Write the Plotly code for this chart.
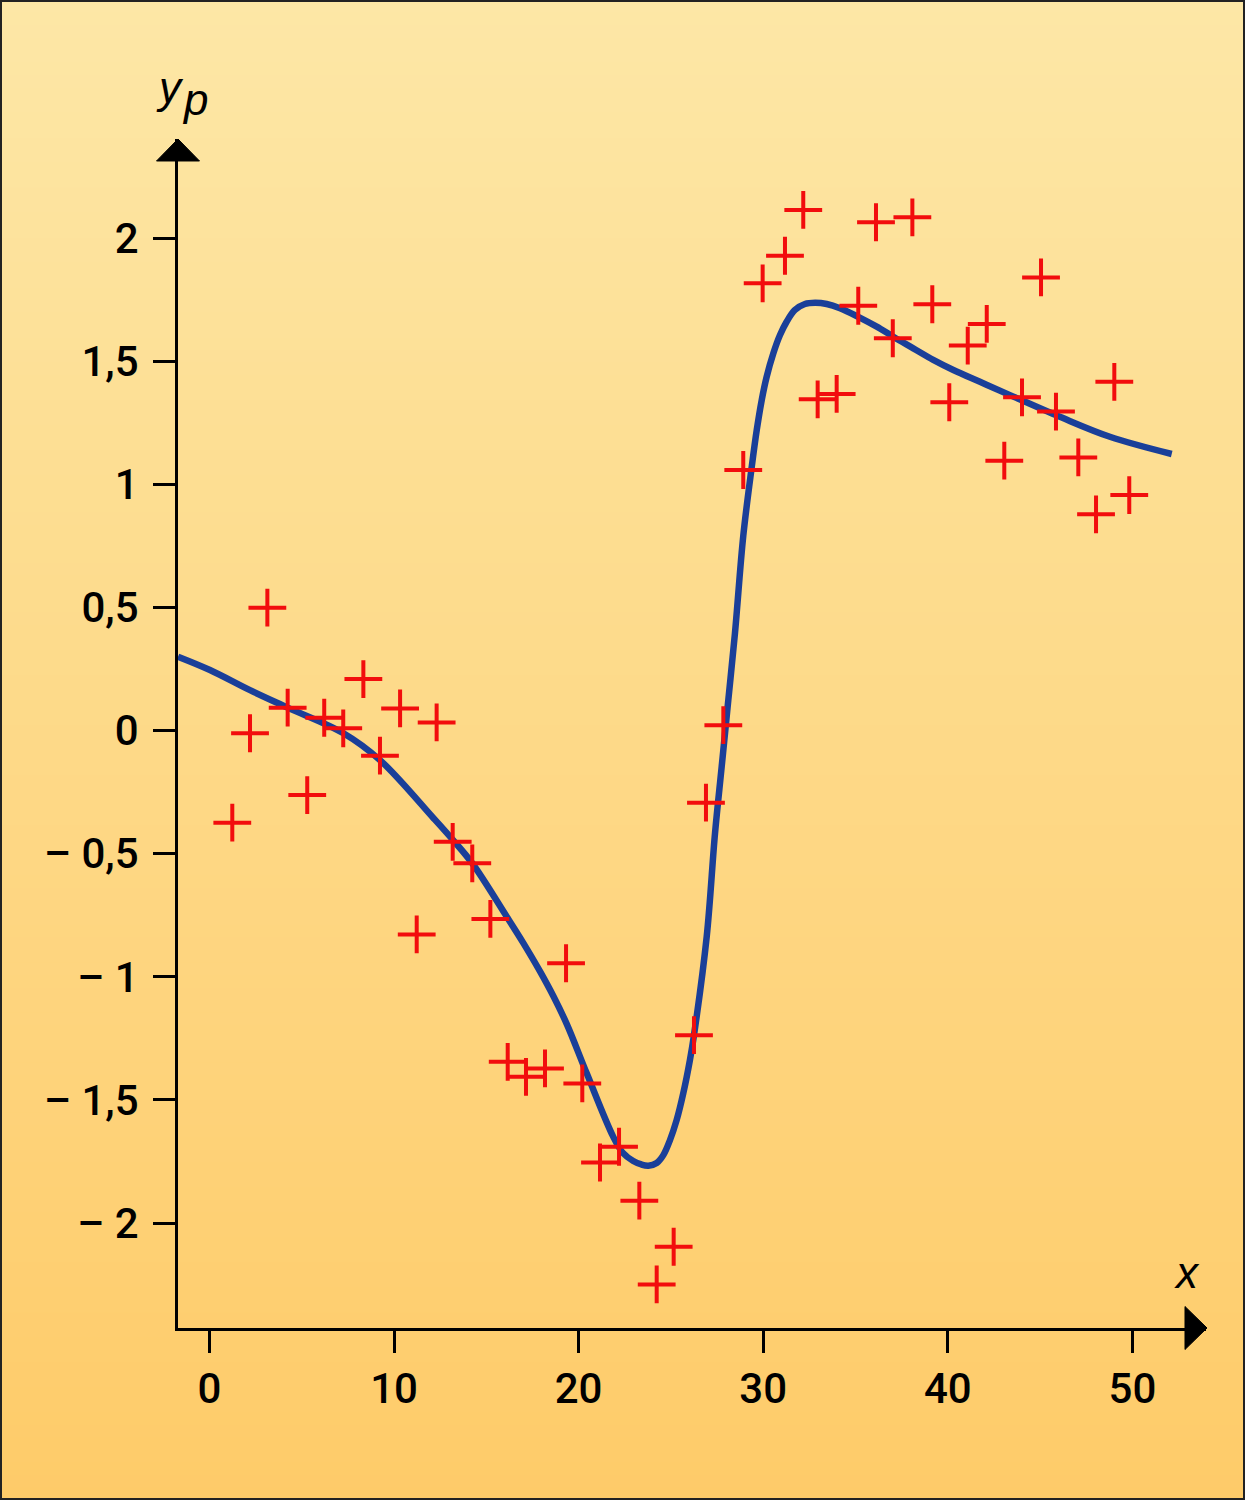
import plotly.graph_objects as go

# ---------------- data ----------------
x_obs = [1.24, 2.20, 3.14, 4.24, 5.30, 6.22, 7.25, 8.34, 9.24, 10.33,
         11.23, 12.31, 13.18, 14.24, 15.22, 16.16, 17.15, 18.18, 19.32, 20.20,
         21.16, 22.19, 23.29, 24.23, 25.15, 26.25, 26.90, 27.84, 28.92, 29.97,
         31.18, 32.17, 32.95, 33.98, 35.15, 36.11, 37.02, 38.08, 39.16, 40.08,
         41.08, 42.11, 43.06, 44.02, 45.05, 45.86, 47.07, 48.03, 49.02, 49.83]
y_obs = [-0.374, -0.011, 0.499, 0.093, -0.262, 0.052, 0.009, 0.209, -0.102, 0.090,
         -0.828, 0.033, -0.452, -0.539, -0.765, -1.345, -1.406, -1.372, -0.945, -1.433,
         -1.754, -1.690, -1.909, -2.249, -2.096, -1.237, -0.293, 0.022, 1.058, 1.816,
         1.928, 2.114, 1.345, 1.367, 1.725, 2.064, 1.593, 2.084, 1.731, 1.333,
         1.563, 1.651, 1.096, 1.353, 1.840, 1.295, 1.109, 0.878, 1.416, 0.956]

x_fit = [-1.70, 0.03, 2.20, 4.24, 7.24, 9.24, 12.13, 13.20, 14.24, 16.11,
         17.00, 17.91, 18.63, 19.36, 20.44, 21.88, 22.40, 22.96, 23.40, 23.78,
         24.23, 24.59, 24.95, 25.31, 25.67, 26.03, 26.25, 26.94, 27.39, 27.75,
         28.11, 28.47, 28.92, 29.38, 29.65, 29.92, 30.19, 30.55, 30.91, 31.27,
         31.72, 32.26, 32.81, 33.44, 34.16, 35.15, 36.15, 37.05, 38.13, 39.21,
         40.30, 41.74, 43.37, 46.07, 48.78, 52.13]
y_fit = [0.300, 0.246, 0.164, 0.093, -0.010, -0.120, -0.355, -0.445, -0.539, -0.756,
         -0.862, -0.978, -1.078, -1.192, -1.392, -1.650, -1.715, -1.748, -1.762, -1.767,
         -1.756, -1.724, -1.663, -1.582, -1.473, -1.338, -1.237, -0.837, -0.417, -0.147,
         0.124, 0.395, 0.790, 1.071, 1.220, 1.342, 1.437, 1.532, 1.606, 1.660,
         1.708, 1.732, 1.737, 1.732, 1.715, 1.680, 1.640, 1.599, 1.552, 1.505,
         1.464, 1.416, 1.362, 1.274, 1.193, 1.123]

x_tick_vals = [0, 10, 20, 30, 40, 50]
x_tick_text = ["0", "10", "20", "30", "40", "50"]
y_tick_vals = [-2, -1.5, -1, -0.5, 0, 0.5, 1, 1.5, 2]
y_tick_text = ["– 2", "– 1,5", "– 1", "– 0,5", "0", "0,5", "1", "1,5", "2"]

# ---------------- layout helpers ----------------
W, H = 1245, 1500
FONT = "Roboto, Liberation Sans, Arial, sans-serif"
LFONT = "Liberation Sans, Arial, sans-serif"


def px(xp):
    return xp / W


def py(yp):
    return 1 - yp / H


top_rgb = (253, 231, 166)
bot_rgb = (254, 203, 105)

shapes = []
N = 120
for i in range(N):
    t = (i + 0.5) / N  # 0 = bottom, 1 = top
    c = tuple(round(bot_rgb[k] + (top_rgb[k] - bot_rgb[k]) * t) for k in range(3))
    shapes.append(dict(type="rect", xref="paper", yref="paper",
                       x0=0, x1=1, y0=i / N, y1=(i + 1) / N + 0.002,
                       fillcolor="rgb(%d,%d,%d)" % c, line=dict(width=0),
                       layer="below"))

# border
shapes.append(dict(type="rect", xref="paper", yref="paper",
                   x0=px(1), x1=px(W - 1), y0=py(H - 1), y1=py(1),
                   line=dict(color="#222222", width=2), fillcolor="rgba(0,0,0,0)"))

# axis arrow heads
shapes.append(dict(type="path", xref="paper", yref="paper",
                   path="M %f,%f L %f,%f L %f,%f Z" % (px(156.5), py(161), px(178), py(139), px(199.5), py(161)),
                   fillcolor="black", line=dict(color="black", width=1)))
shapes.append(dict(type="path", xref="paper", yref="paper",
                   path="M %f,%f L %f,%f L %f,%f Z" % (px(1185), py(1306.5), px(1207), py(1328), px(1185), py(1349.5)),
                   fillcolor="black", line=dict(color="black", width=1)))

fig = go.Figure()
fig.add_trace(go.Scatter(x=x_fit, y=y_fit, mode="lines",
                         line=dict(color="#1a3f99", width=6.5, shape="spline", smoothing=1.0),
                         hoverinfo="skip"))
fig.add_trace(go.Scatter(x=x_obs, y=y_obs, mode="markers",
                         marker=dict(symbol="cross-thin", size=27,
                                     line=dict(color="#f20d0d", width=4)),
                         cliponaxis=False))

axis_common = dict(showline=True, linecolor="black", linewidth=3,
                   ticks="outside", tickcolor="black", tickwidth=2.5, ticklen=22,
                   showgrid=False, zeroline=False,
                   tickfont=dict(family=FONT, size=42, color="black", weight=500),
                   fixedrange=True)

fig.update_layout(
    width=W, height=H,
    margin=dict(l=0, r=0, t=0, b=0),
    paper_bgcolor="rgb(%d,%d,%d)" % bot_rgb,
    plot_bgcolor="rgba(0,0,0,0)",
    showlegend=False,
    xaxis=dict(domain=[px(178), px(1206)], range=[-1.701, 53.987],
               tickvals=x_tick_vals, ticktext=x_tick_text,
               ticklabelstandoff=0, **axis_common),
    yaxis=dict(domain=[py(1328), py(139)], range=[-2.426, 2.402],
               tickvals=y_tick_vals, ticktext=y_tick_text,
               ticklabelstandoff=6, **axis_common),
    shapes=shapes,
    annotations=[
        dict(xref="paper", yref="paper", x=px(170), y=py(88), text="<i>y</i>",
             showarrow=False, xanchor="center", yanchor="middle",
             font=dict(family=LFONT, size=44, color="black")),
        dict(xref="paper", yref="paper", x=px(195), y=py(100), text="<i>p</i>",
             showarrow=False, xanchor="center", yanchor="middle",
             font=dict(family=LFONT, size=44, color="black")),
        dict(xref="paper", yref="paper", x=px(1187), y=py(1272), text="<i>x</i>",
             showarrow=False, xanchor="center", yanchor="middle",
             font=dict(family=LFONT, size=44, color="black")),
    ],
)

fig.write_html("out.html")
